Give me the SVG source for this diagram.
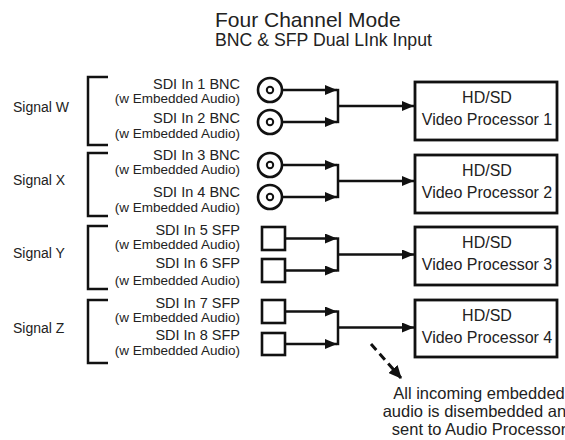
<svg xmlns="http://www.w3.org/2000/svg" width="565" height="440" viewBox="0 0 565 440">
<defs>
<marker id="ah" markerUnits="userSpaceOnUse" markerWidth="12" markerHeight="10" refX="12" refY="5" orient="auto"><path d="M0,0 L12,5 L0,10 z" fill="#111"/></marker>
<marker id="ahd" markerUnits="userSpaceOnUse" markerWidth="13" markerHeight="12" refX="12" refY="6" orient="auto"><path d="M0,0 L13,6 L0,12 z" fill="#111"/></marker>
<style>
text{font-family:"Liberation Sans",Arial,sans-serif;fill:#222}
.t1{font-size:21px}
.t2{font-size:17.7px}
.sig{font-size:14px}
.sdi{font-size:14.5px;text-anchor:end}
.emb{font-size:13.5px;text-anchor:end}
.box{fill:#fff;stroke:#111;stroke-width:2.8}
.bt{font-size:16px;text-anchor:middle}
.br{fill:none;stroke:#111;stroke-width:2.5}
.bnc{fill:#fff;stroke:#111;stroke-width:2.6}
.in{fill:#fff;stroke:#111;stroke-width:2}
.sfp{fill:#fff;stroke:#111;stroke-width:2.6}
.c{fill:none;stroke:#111;stroke-width:2.5}
.a{fill:none;stroke:#111;stroke-width:2.5;marker-end:url(#ah)}
.note{font-size:16.5px;text-anchor:middle}
</style>
</defs>
<g id="title">
<text class="t1" x="215" y="27">Four Channel Mode</text>
<text class="t2" x="215" y="46">BNC &amp; SFP Dual LInk Input</text>
</g>
<g id="signal-w">
<text class="sig" x="13" y="112">Signal W</text>
<path class="br" d="M108,77 H88 V145 H108"/>
<text class="sdi" x="240" y="89">SDI In 1 BNC</text>
<text class="emb" x="240" y="103">(w Embedded Audio)</text>
<text class="sdi" x="240" y="123">SDI In 2 BNC</text>
<text class="emb" x="240" y="138">(w Embedded Audio)</text>
</g>
<g id="signal-x">
<text class="sig" x="13" y="185">Signal X</text>
<path class="br" d="M108,153 H88 V216 H108"/>
<text class="sdi" x="240" y="160">SDI In 3 BNC</text>
<text class="emb" x="240" y="174">(w Embedded Audio)</text>
<text class="sdi" x="240" y="197">SDI In 4 BNC</text>
<text class="emb" x="240" y="212">(w Embedded Audio)</text>
</g>
<g id="signal-y">
<text class="sig" x="13" y="258">Signal Y</text>
<path class="br" d="M108,226 H88 V289 H108"/>
<text class="sdi" x="240" y="235">SDI In 5 SFP</text>
<text class="emb" x="240" y="249">(w Embedded Audio)</text>
<text class="sdi" x="240" y="268">SDI In 6 SFP</text>
<text class="emb" x="240" y="285">(w Embedded Audio)</text>
</g>
<g id="signal-z">
<text class="sig" x="13" y="333">Signal Z</text>
<path class="br" d="M108,300 H88 V363 H108"/>
<text class="sdi" x="240" y="308">SDI In 7 SFP</text>
<text class="emb" x="240" y="322">(w Embedded Audio)</text>
<text class="sdi" x="240" y="340">SDI In 8 SFP</text>
<text class="emb" x="240" y="355">(w Embedded Audio)</text>
</g>
<g id="bnc1"><circle class="bnc" cx="270" cy="90" r="12"/><circle class="in" cx="270" cy="90" r="3.2"/></g>
<g id="bnc2"><circle class="bnc" cx="270" cy="122" r="12"/><circle class="in" cx="270" cy="122" r="3.2"/></g>
<g id="bnc3"><circle class="bnc" cx="270" cy="165" r="12"/><circle class="in" cx="270" cy="165" r="3.2"/></g>
<g id="bnc4"><circle class="bnc" cx="270" cy="197" r="12"/><circle class="in" cx="270" cy="197" r="3.2"/></g>
<g id="sfp5"><rect class="sfp" x="262" y="227" width="23" height="23"/></g>
<g id="sfp6"><rect class="sfp" x="262" y="259" width="23" height="23"/></g>
<g id="sfp7"><rect class="sfp" x="262" y="300" width="23" height="23"/></g>
<g id="sfp8"><rect class="sfp" x="262" y="333" width="23" height="22"/></g>
<g id="vp1"><rect class="box" x="415" y="82" width="142" height="58"/><text class="bt" x="487" y="103">HD/SD</text><text class="bt" x="487" y="125">Video Processor 1</text></g>
<g id="vp2"><rect class="box" x="415" y="155" width="142" height="58"/><text class="bt" x="487" y="176">HD/SD</text><text class="bt" x="487" y="198">Video Processor 2</text></g>
<g id="vp3"><rect class="box" x="415" y="227" width="142" height="58"/><text class="bt" x="487" y="248">HD/SD</text><text class="bt" x="487" y="270">Video Processor 3</text></g>
<g id="vp4"><rect class="box" x="415" y="300" width="142" height="57"/><text class="bt" x="487" y="321">HD/SD</text><text class="bt" x="487" y="343">Video Processor 4</text></g>
<g id="connectors">
<line class="a" x1="282" y1="90" x2="337" y2="90"/>
<line class="a" x1="282" y1="122" x2="337" y2="122"/>
<line class="c" x1="338" y1="88.8" x2="338" y2="123.2"/>
<line class="a" x1="338" y1="106" x2="414" y2="106"/>
<line class="a" x1="282" y1="165" x2="337" y2="165"/>
<line class="a" x1="282" y1="197" x2="337" y2="197"/>
<line class="c" x1="338" y1="163.8" x2="338" y2="198.2"/>
<line class="a" x1="338" y1="181" x2="414" y2="181"/>
<line class="a" x1="285" y1="238.5" x2="337" y2="238.5"/>
<line class="a" x1="285" y1="270.5" x2="337" y2="270.5"/>
<line class="c" x1="338" y1="237.3" x2="338" y2="271.7"/>
<line class="a" x1="338" y1="254.5" x2="414" y2="254.5"/>
<line class="a" x1="285" y1="311.5" x2="337" y2="311.5"/>
<line class="a" x1="285" y1="344" x2="337" y2="344"/>
<line class="c" x1="338" y1="310.3" x2="338" y2="345.2"/>
<line class="a" x1="338" y1="327.5" x2="414" y2="327.5"/>
<line x1="371" y1="344" x2="401" y2="378" stroke="#111" stroke-width="3" stroke-dasharray="8 5" marker-end="url(#ahd)"/>
</g>
<g id="note">
<text class="note" x="479" y="399">All incoming embedded</text>
<text class="note" x="479" y="417">audio is disembedded and</text>
<text class="note" x="479" y="435">sent to Audio Processor</text>
</g>
</svg>
